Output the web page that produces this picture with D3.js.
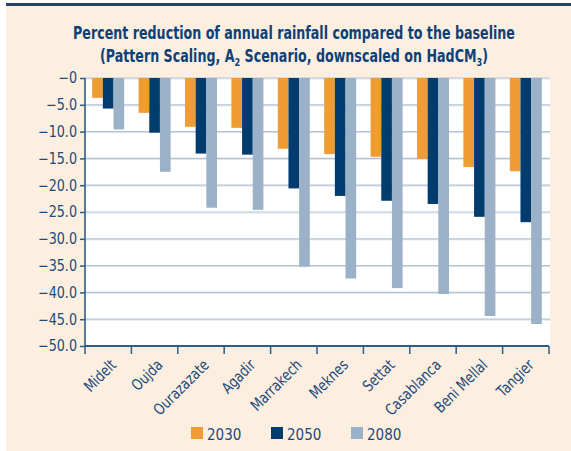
<!DOCTYPE html>
<html><head><meta charset="utf-8">
<script src="https://cdn.jsdelivr.net/npm/d3@7"></script>
<style>
body{margin:0;background:#ffffff;}
svg{display:block;}
text{font-family:"DejaVu Sans",sans-serif;}
</style></head>
<body><svg id="c" width="571" height="451"></svg>
<script>
const categories = ["Midelt","Oujda","Ourazazate","Agadir","Marrakech","Meknes","Settat","Casablanca","Beni Mellal","Tangier"];
const seriesNames = ["2030","2050","2080"];
const v2030 = [-3.7,-6.5,-9.1,-9.3,-13.2,-14.2,-14.7,-15.1,-16.6,-17.4];
const v2050 = [-5.7,-10.2,-14.1,-14.3,-20.6,-22.0,-22.9,-23.5,-25.9,-26.9];
const v2080 = [-9.6,-17.5,-24.2,-24.6,-35.2,-37.4,-39.2,-40.3,-44.4,-45.9];
const yTicks = [0,-5,-10,-15,-20,-25,-30,-35,-40,-45,-50];
const colors = ["#f09c34","#003c6e","#9bb1c8"];
const textColor = "#1d4a7c";

const svg = d3.select("#c");
svg.append("rect").attr("x",6).attr("y",6).attr("width",565).attr("height",445).attr("fill","#fcefe0");
svg.append("rect").attr("x",6).attr("y",3).attr("width",565).attr("height",3).attr("fill","#0d4a7e");

const m = {l:85, r:549, t:78, b:346};
const x = d3.scaleBand().domain(categories).range([m.l,m.r]).paddingInner(0.31).paddingOuter(0.155);
const xb = d3.scaleBand().domain(categories).range([m.l,m.r]);
const xs = d3.scaleBand().domain(seriesNames).range([0,x.bandwidth()]);
const y = d3.scaleLinear().domain([0,-50]).range([m.t,m.b]);

svg.append("rect").attr("x",m.l).attr("y",m.t).attr("width",550-m.l).attr("height",m.b-m.t).attr("fill","#ffffff");

// gridlines
const g = svg.append("g");
yTicks.filter(d=>d!==-50).forEach(d=>{
  g.append("line").attr("x1",m.l).attr("x2",550).attr("y1",y(d)+1).attr("y2",y(d)+1).attr("stroke","#dde5ee").attr("stroke-width",1);
  g.append("line").attr("x1",m.l).attr("x2",550).attr("y1",y(d)).attr("y2",y(d)).attr("stroke","#b3c3d5").attr("stroke-width",1.2);
});

const all = [v2030,v2050,v2080];
seriesNames.forEach((s,si)=>{
  svg.append("g").selectAll("rect").data(categories).join("rect")
    .attr("x",c=>x(c)+xs(s))
    .attr("y",y(0))
    .attr("width",xs.bandwidth())
    .attr("height",(c,i)=>y(all[si][i])-y(0))
    .attr("fill",colors[si]);
});

// y axis
const ya = svg.append("g").attr("transform",`translate(${m.l},0)`)
  .call(d3.axisLeft(y).tickValues(yTicks).tickSize(5).tickPadding(3)
    .tickFormat(d=> d===0 ? "\u22120" : "\u2212"+Math.abs(d).toFixed(1)));
ya.select(".domain").attr("stroke","#2e5c8a").attr("stroke-width",1.6).attr("d",`M0,${m.t}V${m.b}`);
ya.selectAll(".tick line").attr("stroke","#2e5c8a").attr("stroke-width",1.5);
ya.selectAll(".tick text").attr("fill",textColor).attr("font-size",15).attr("x",0)
  .attr("transform","translate(-8,0) scale(0.85,1)");

// x axis
const xa = svg.append("g").attr("transform",`translate(0,${m.b})`)
  .call(d3.axisBottom(xb).tickSize(0).tickFormat(""));
xa.select(".domain").attr("stroke","#2e5c8a").attr("stroke-width",2).attr("d",`M${m.l},0H${m.r}`);
const edges = d3.range(categories.length+1).map(i=>m.l+i*xb.step());
xa.selectAll(".edge").data(edges).join("line").attr("class","edge")
  .attr("x1",d=>d).attr("x2",d=>d).attr("y1",0).attr("y2",8).attr("stroke","#2e5c8a").attr("stroke-width",1.5);
xa.selectAll(".lbl").data(categories).join("text").attr("class","lbl")
  .attr("transform",c=>`translate(${xb(c)+xb.bandwidth()/2+9},20) rotate(-45) scale(0.8,1)`)
  .attr("text-anchor","end").attr("fill",textColor).attr("font-size",15.5).text(c=>c);

// title
const t = svg.append("text").attr("text-anchor","middle").attr("fill","#0d4077").attr("font-weight","bold").attr("font-size",17)
  .attr("transform","translate(294,39) scale(0.745,1)")
  .text("Percent reduction of annual rainfall compared to the baseline");
const t2 = svg.append("text").attr("text-anchor","middle").attr("fill","#0d4077").attr("font-weight","bold").attr("font-size",17)
  .attr("transform","translate(294,62) scale(0.745,1)");
t2.append("tspan").text("(Pattern Scaling, A");
t2.append("tspan").attr("font-size",11).attr("dy",4).text("2");
t2.append("tspan").attr("dy",-4).text(" Scenario, downscaled on HadCM");
t2.append("tspan").attr("font-size",11).attr("dy",4).text("3");
t2.append("tspan").attr("dy",-4).text(")");

// legend
const lx = [191,271,351];
seriesNames.forEach((s,i)=>{
  svg.append("rect").attr("x",lx[i]).attr("y",427).attr("width",12).attr("height",12).attr("fill",colors[i]);
  svg.append("text").attr("transform",`translate(${lx[i]+16},440) scale(0.82,1)`).attr("fill",textColor).attr("font-size",16.5).text(s);
});
</script></body></html>
